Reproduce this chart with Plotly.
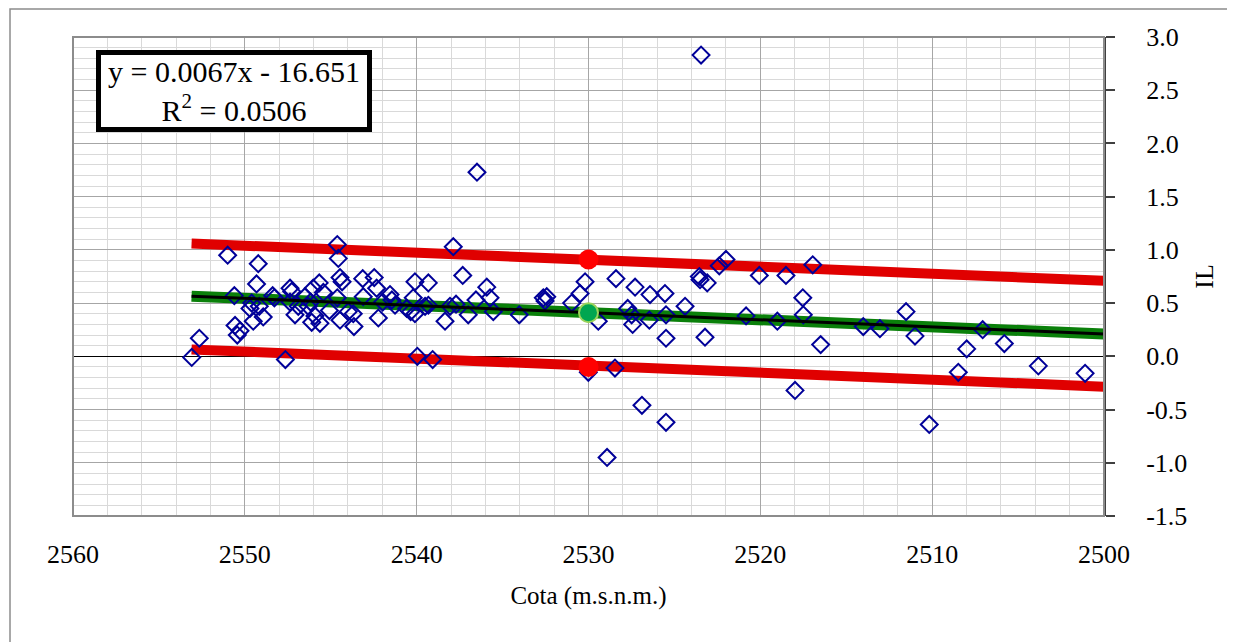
import plotly.graph_objects as go

# Scatter data: Cota (m.s.n.m.) vs IL
cota = [2553.09, 2552.65, 2551.00, 2550.61, 2550.57, 2550.44, 2550.28, 2549.22, 2549.32, 2549.60,
        2549.70, 2549.51, 2549.16, 2548.93, 2548.38, 2548.28, 2547.64, 2547.37, 2547.27, 2547.37,
        2547.08, 2546.89, 2546.50, 2546.31, 2546.17, 2546.11, 2545.92, 2545.63, 2546.02, 2545.67,
        2545.43, 2545.08, 2544.62, 2544.56, 2544.46, 2544.34, 2544.46, 2544.62, 2543.98, 2543.69,
        2543.65, 2543.11, 2543.14, 2542.47, 2542.33, 2542.23, 2541.98, 2541.55, 2541.44, 2541.26,
        2540.58, 2540.20, 2540.10, 2539.32, 2540.35, 2540.10, 2539.96, 2539.07, 2539.51, 2539.32,
        2538.35, 2538.06, 2537.71, 2537.87, 2537.32, 2537.00, 2536.55, 2535.92, 2535.73, 2535.54,
        2536.49, 2534.03, 2532.63, 2532.43, 2532.53, 2530.98, 2530.49, 2530.20, 2530.01, 2529.43,
        2528.40, 2528.46, 2527.72, 2527.49, 2527.43, 2527.29, 2526.46, 2526.42, 2525.55, 2525.49,
        2525.49, 2526.89, 2528.92, 2525.49, 2524.38, 2523.55, 2523.51, 2523.09, 2523.22, 2522.39,
        2522.00, 2520.83, 2520.06, 2519.01, 2518.51, 2517.53, 2517.50, 2517.98, 2516.95, 2516.49,
        2514.01, 2513.04, 2511.52, 2511.00, 2510.17, 2508.48, 2507.99, 2507.06, 2505.80, 2503.82,
        2501.10, 2523.45]
il = [-0.01, 0.17, 0.95, 0.57, 0.29, 0.20, 0.24, 0.87, 0.68, 0.50,
      0.45, 0.33, 0.47, 0.37, 0.57, 0.55, -0.03, 0.64, 0.61, 0.51,
      0.39, 0.47, 0.56, 0.47, 0.51, 0.32, 0.38, 0.31, 0.64, 0.69,
      0.60, 0.43, 1.05, 0.92, 0.74, 0.70, 0.34, 0.55, 0.42, 0.40,
      0.28, 0.56, 0.73, 0.74, 0.64, 0.36, 0.51, 0.58, 0.53, 0.48,
      0.45, 0.55, 0.70, 0.69, 0.42, 0.40, 0.00, -0.03, 0.47, 0.48,
      0.33, 0.47, 0.49, 1.03, 0.76, 0.39, 0.53, 0.65, 0.55, 0.42,
      1.73, 0.39, 0.55, 0.56, 0.52, 0.50, 0.59, 0.70, -0.15, 0.33,
      0.73, -0.11, 0.45, 0.39, 0.30, 0.65, 0.34, 0.58, 0.59, 0.39,
      0.17, -0.46, -0.95, -0.62, 0.47, 0.75, 0.72, 0.69, 0.18, 0.85,
      0.91, 0.38, 0.76, 0.33, 0.76, 0.55, 0.39, -0.32, 0.86, 0.11,
      0.28, 0.26, 0.42, 0.19, -0.64, -0.15, 0.07, 0.25, 0.12, -0.09,
      -0.16, 2.83]

# Trend line and bounds
line_x = [2553.1, 2500.0]
trend_y = [0.565, 0.21]
upper_y = [1.06, 0.71]
lower_y = [0.065, -0.285]

# Highlighted points at x = 2530
mark_x = [2530.0]
mark_upper = [0.91]
mark_lower = [-0.10]
mark_mid = [0.41]

x_ticks = [2560, 2550, 2540, 2530, 2520, 2510, 2500]
y_ticks = [3.0, 2.5, 2.0, 1.5, 1.0, 0.5, 0.0, -0.5, -1.0, -1.5]
y_labels = ["3.0", "2.5", "2.0", "1.5", "1.0", "0.5", "0.0", "-0.5", "-1.0", "-1.5"]

FONT = "Liberation Serif"

fig = go.Figure()

fig.add_trace(go.Scatter(x=line_x, y=upper_y, mode="lines",
                         line=dict(color="#e00000", width=10), showlegend=False))
fig.add_trace(go.Scatter(x=line_x, y=lower_y, mode="lines",
                         line=dict(color="#e00000", width=10), showlegend=False))
fig.add_trace(go.Scatter(x=line_x, y=trend_y, mode="lines",
                         line=dict(color="#0a800a", width=11), showlegend=False))

fig.add_trace(go.Scatter(x=cota, y=il, mode="markers",
                         marker=dict(symbol="diamond-open", size=13, color="#000099",
                                     line=dict(width=2, color="#000099")),
                         showlegend=False))

fig.add_trace(go.Scatter(x=line_x, y=trend_y, mode="lines",
                         line=dict(color="black", width=3), showlegend=False))

fig.add_trace(go.Scatter(x=mark_x, y=mark_upper, mode="markers",
                         marker=dict(size=20, color="#ff0000"), showlegend=False))
fig.add_trace(go.Scatter(x=mark_x, y=mark_lower, mode="markers",
                         marker=dict(size=20, color="#ff0000"), showlegend=False))
fig.add_trace(go.Scatter(x=mark_x, y=mark_mid, mode="markers",
                         marker=dict(size=19, color="#00a650",
                                     line=dict(color="#9bd35a", width=2)),
                         showlegend=False))

fig.update_layout(
    width=1235, height=642,
    margin=dict(l=65, r=139, t=29, b=134),
    paper_bgcolor="white", plot_bgcolor="white",
    font=dict(family=FONT, size=26, color="black"),
    xaxis=dict(
        range=[2560, 2500], tickvals=x_ticks, ticktext=[str(v) for v in x_ticks],
        showgrid=True, gridcolor="#a6a6a6", gridwidth=1,
        minor=dict(dtick=2, tick0=2500, showgrid=True, gridcolor="#d9d9d9", gridwidth=1),
        ticks="", zeroline=False, showline=False, automargin=False,
        ticklabelstandoff=20,
        title=dict(text="Cota (m.s.n.m.)", font=dict(size=25), standoff=18),
    ),
    yaxis=dict(
        range=[-1.5, 3.0], tickvals=y_ticks, ticktext=y_labels, side="right",
        showgrid=True, gridcolor="#a6a6a6", gridwidth=1,
        minor=dict(dtick=0.1, tick0=0, showgrid=True, gridcolor="#d9d9d9", gridwidth=1),
        ticks="outside", ticklen=9, tickcolor="#404040", tickwidth=1.5,
        ticklabelstandoff=26, automargin=False,
        zeroline=True, zerolinecolor="black", zerolinewidth=1.2,
        showline=True, linecolor="#404040", linewidth=2,
        title=dict(text="IL", font=dict(size=26), standoff=8),
    ),
    shapes=[
        dict(type="rect", xref="paper", yref="paper", x0=0, x1=1, y0=0, y1=1,
             line=dict(color="#8c8c8c", width=2), layer="above"),
        dict(type="rect", xref="paper", yref="paper", x0=-0.0611, x1=1.5, y0=-0.6, y1=1.0585,
             line=dict(color="#8c8c8c", width=1.5)),
    ],
    annotations=[
        dict(xref="paper", yref="paper", x=0.0223, y=0.973, xanchor="left", yanchor="top",
             text="y = 0.0067x - 16.651<br>R<sup>2</sup> = 0.0506", showarrow=False,
             align="center", width=266, font=dict(family=FONT, size=30, color="black"),
             bgcolor="white", bordercolor="black", borderwidth=5, borderpad=0),
    ],
)

fig.write_html("out.html")
